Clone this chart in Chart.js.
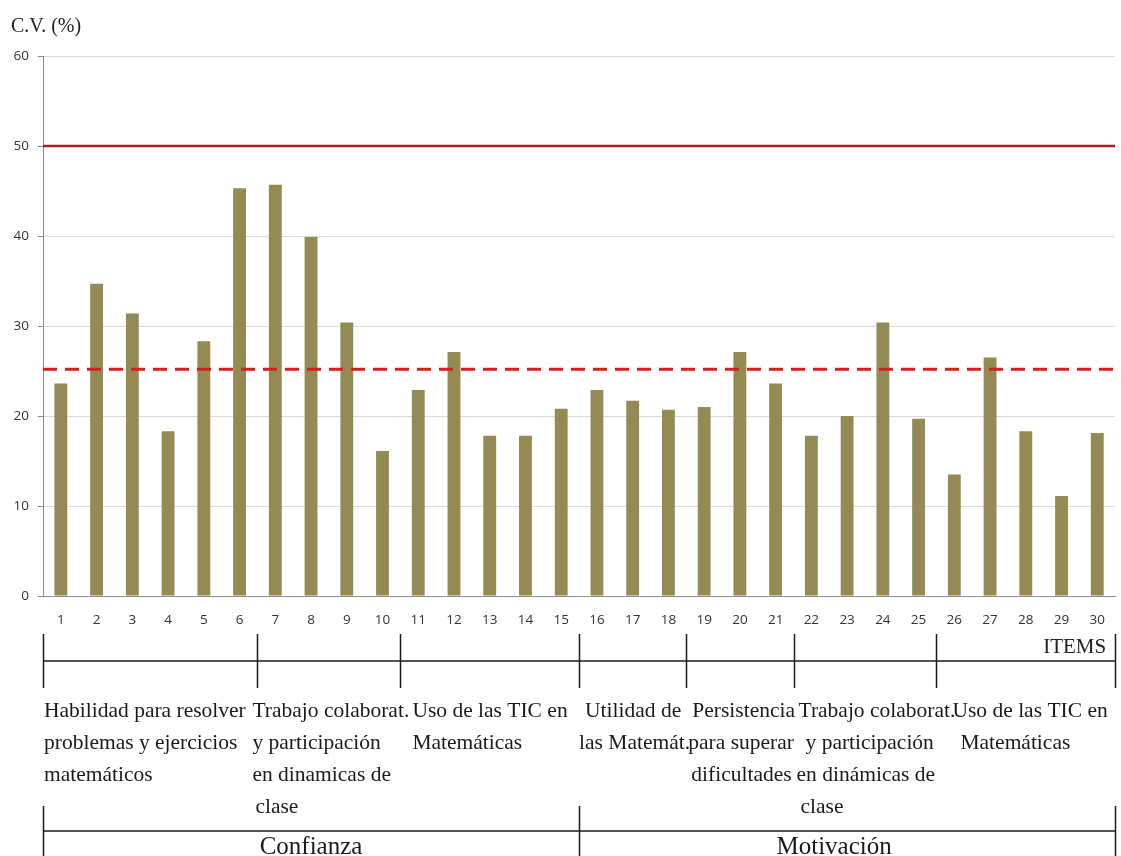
<!DOCTYPE html>
<html>
<head>
<meta charset="utf-8">
<script src="https://cdn.jsdelivr.net/npm/chart.js@4/dist/chart.umd.min.js"></script>
<style>
  html, body { margin: 0; padding: 0; background: #ffffff; }
  #wrap { width: 1121px; height: 856px; position: relative; }
</style>
</head>
<body>
<div id="wrap"><canvas id="c"></canvas></div>
<script>
// ---- Data ----
const items = ['1','2','3','4','5','6','7','8','9','10','11','12','13','14','15',
               '16','17','18','19','20','21','22','23','24','25','26','27','28','29','30'];
const cvValues = [23.6, 34.7, 31.4, 18.3, 28.3, 45.3, 45.7, 39.9, 30.4, 16.1,
                  22.9, 27.1, 17.8, 17.8, 20.8, 22.9, 21.7, 20.7, 21.0, 27.1,
                  23.6, 17.8, 20.0, 30.4, 19.7, 13.5, 26.5, 18.3, 11.1, 18.1];
const limitLevel = [50, 50];
const meanLevel = [25.2, 25.2];
const yTickValues = [0, 10, 20, 30, 40, 50, 60];
const yAxisTitle = 'C.V. (%)';
const xAxisTitle = 'ITEMS';

const subGroupRanges = [[1, 6], [7, 10], [11, 15], [16, 18], [19, 21], [22, 25], [26, 30]];
const subGroupTexts = [
  ['Habilidad para resolver', 'problemas y ejercicios', 'matemáticos'],
  ['Trabajo colaborat.', 'y participación', 'en dinamicas de', 'clase'],
  ['Uso de las TIC en', 'Matemáticas'],
  ['Utilidad de', 'las Matemát.'],
  ['Persistencia', 'para superar', 'dificultades'],
  ['Trabajo colaborat.', 'y participación', 'en dinámicas de', 'clase'],
  ['Uso de las TIC en', 'Matemáticas']
];
const mainGroupRanges = [[1, 15], [16, 30]];
const mainGroupTexts = ['Confianza', 'Motivación'];

// ---- Layout / style (kept separate from data) ----
const textOffsets = [[1, 1, 1], [-5, -5, -5, -2], [12, 12], [6, 0], [6, 2, 5], [5, 12, 3, 7], [16, 24]];
const mainTextShift = [0, -13];
const serif = '"Liberation Serif", "Times New Roman", serif';
const sans = '"Open Sans", "Noto Sans", sans-serif';

const annotPlugin = {
  id: 'annot',
  afterDraw(chart) {
    const ctx = chart.ctx;
    const xs = chart.scales.x;
    const area = chart.chartArea;
    const boundary = (k) => {
      if (k <= 0) return area.left;
      if (k >= items.length) return area.right;
      return (xs.getPixelForValue(k - 1) + xs.getPixelForValue(k)) / 2;
    };
    ctx.save();
    ctx.fillStyle = '#222';
    ctx.font = '20px ' + serif;
    ctx.textAlign = 'left';
    ctx.textBaseline = 'alphabetic';
    ctx.fillText(yAxisTitle, 11, 32);
    ctx.font = '21px ' + serif;
    ctx.textAlign = 'right';
    ctx.fillText(xAxisTitle, area.right - 9, 653);

    ctx.strokeStyle = '#1a1a1a';
    ctx.lineWidth = 1.5;
    ctx.beginPath();
    ctx.moveTo(area.left, 661); ctx.lineTo(area.right, 661);
    const bset = new Set([0]);
    subGroupRanges.forEach(r => bset.add(r[1]));
    bset.forEach(k => {
      const px = Math.round(boundary(k)) + 0.5;
      ctx.moveTo(px, 634); ctx.lineTo(px, 688);
    });
    ctx.stroke();

    ctx.font = '21.5px ' + serif;
    ctx.textAlign = 'left';
    ctx.fillStyle = '#1a1a1a';
    const baselines = [717, 749, 781, 813];
    subGroupRanges.forEach((r, gi) => {
      const left = boundary(r[0] - 1);
      subGroupTexts[gi].forEach((t, li) => {
        ctx.fillText(t, left + textOffsets[gi][li], baselines[li]);
      });
    });

    ctx.beginPath();
    ctx.moveTo(area.left, 831); ctx.lineTo(area.right, 831);
    const mset = new Set([0]);
    mainGroupRanges.forEach(r => mset.add(r[1]));
    mset.forEach(k => {
      const px = Math.round(boundary(k)) + 0.5;
      ctx.moveTo(px, 806); ctx.lineTo(px, 856);
    });
    ctx.stroke();

    ctx.font = '25px ' + serif;
    ctx.textAlign = 'center';
    mainGroupRanges.forEach((r, gi) => {
      const cx = (boundary(r[0] - 1) + boundary(r[1])) / 2 + mainTextShift[gi];
      ctx.fillText(mainGroupTexts[gi], cx, 854);
    });
    ctx.restore();
  }
};

new Chart(document.getElementById('c'), {
  type: 'bar',
  data: {
    labels: items,
    datasets: [
      {
        type: 'bar',
        data: cvValues,
        backgroundColor: '#948a54',
        borderWidth: 0,
        grouped: false,
        categoryPercentage: 1.0,
        barPercentage: 0.36,
        order: 2,
        xAxisID: 'x',
        yAxisID: 'y'
      },
      {
        type: 'line',
        data: limitLevel.map((v, i) => ({ x: i, y: v })),
        borderColor: '#a3201f',
        borderWidth: 2.5,
        pointRadius: 0,
        fill: false,
        order: 1,
        xAxisID: 'x2',
        yAxisID: 'y'
      },
      {
        type: 'line',
        data: meanLevel.map((v, i) => ({ x: i, y: v })),
        borderColor: '#d91c1c',
        borderWidth: 3,
        borderDash: [14, 8],
        pointRadius: 0,
        fill: false,
        order: 1,
        xAxisID: 'x2',
        yAxisID: 'y'
      }
    ]
  },
  options: {
    responsive: true,
    maintainAspectRatio: false,
    animation: false,
    layout: { padding: { top: 56, right: 0, left: 0, bottom: 0 } },
    plugins: { legend: { display: false }, tooltip: { enabled: false }, title: { display: false } },
    scales: {
      x: {
        type: 'category',
        offset: true,
        grid: { display: false, drawTicks: false },
        border: { display: true, color: '#8c8c8c', width: 1 },
        ticks: { color: '#333', font: { family: sans, size: 13.5 }, padding: 16, maxRotation: 0, autoSkip: false },
        afterFit(scale) { scale.height = 260; }
      },
      x2: {
        type: 'linear',
        display: false,
        offset: false,
        grid: { offset: false },
        min: 0,
        max: 1
      },
      y: {
        min: 0,
        max: 60,
        afterBuildTicks(scale) { scale.ticks = yTickValues.map(v => ({ value: v })); },
        grid: { color: '#d9d9d9', tickColor: '#8c8c8c', tickLength: 5, lineWidth: 1 },
        border: { display: true, color: '#8c8c8c', width: 1 },
        ticks: { color: '#333', font: { family: sans, size: 13.5 }, padding: 9 },
        afterFit(scale) { scale.width = 43; }
      }
    }
  },
  plugins: [annotPlugin]
});
</script>
</body>
</html>
